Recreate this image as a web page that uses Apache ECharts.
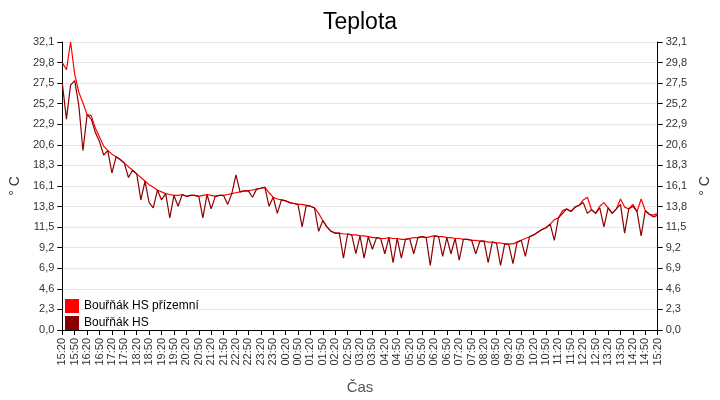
<!DOCTYPE html>
<html><head><meta charset="utf-8">
<script src="https://cdn.jsdelivr.net/npm/echarts@6/dist/echarts.min.js"></script>
<style>html,body{margin:0;padding:0;background:#fff}#c{width:720px;height:400px}</style>
</head><body><div id="c"></div>
<script>
// time categories every 10 minutes 15:20 .. 15:20
const times = [];
for (let i = 0; i <= 144; i++) {
  const m = (15*60+20 + i*10) % 1440;
  times.push(String(Math.floor(m/60)).padStart(2,'0') + ':' + String(m%60).padStart(2,'0'));
}
const groundValues = [29.8,29.0,32.1,28.5,26.5,25.3,24.0,23.9,22.5,21.5,
20.5,20.0,19.6,19.3,19.0,18.6,18.2,17.8,17.4,17.0,
16.6,16.2,15.9,15.6,15.4,15.2,15.1,15.0,15.0,15.1,
14.9,15.0,15.0,14.9,15.0,15.1,15.0,14.9,15.0,15.0,
15.1,15.2,15.3,15.4,15.5,15.5,15.6,15.7,15.8,15.9,
15.3,14.8,14.6,14.5,14.4,14.2,14.1,14.0,14.0,13.9,
13.8,13.6,13.0,12.2,11.5,11.0,10.8,10.8,10.7,10.7,
10.6,10.6,10.5,10.5,10.4,10.3,10.3,10.2,10.2,10.3,
10.2,10.2,10.1,10.1,10.2,10.3,10.3,10.4,10.3,10.4,
10.5,10.4,10.4,10.3,10.3,10.2,10.2,10.1,10.1,10.0,
10.0,9.9,9.9,9.8,9.8,9.7,9.7,9.6,9.6,9.6,
9.8,10.0,10.2,10.4,10.6,10.9,11.2,11.4,11.8,12.3,
12.5,13.3,13.5,13.2,13.7,13.9,14.5,14.8,13.4,13.0,
13.8,14.2,13.6,13.0,13.5,14.6,13.7,13.5,14.0,13.2,
14.6,13.3,12.9,12.8,13.0];
const hsValues = [27.5,23.5,27.3,27.8,25.0,20.0,24.0,23.5,22.0,21.0,
19.5,20.0,17.5,19.3,19.0,18.6,17.0,17.8,17.4,14.5,
16.6,14.2,13.6,15.6,14.5,15.2,12.5,15.0,13.8,15.1,
14.9,15.0,15.0,14.9,12.5,15.1,13.5,14.9,15.0,15.0,
14.0,15.2,17.3,15.4,15.5,15.5,14.8,15.7,15.8,15.9,
13.8,14.8,13.0,14.5,14.4,14.2,14.1,14.0,11.5,13.9,
13.8,13.6,11.0,12.2,11.5,11.0,10.8,10.8,8.0,10.7,
10.6,8.5,10.5,8.0,10.4,9.0,10.3,10.2,8.5,10.3,
7.5,10.2,8.0,10.1,10.2,8.5,10.3,10.4,10.3,7.2,
10.5,10.4,8.2,10.3,8.5,10.2,7.8,10.1,10.1,10.0,
8.5,9.9,9.9,7.5,9.8,9.7,7.2,9.6,9.5,7.4,
9.8,10.0,8.2,10.4,10.6,10.9,11.2,11.4,11.8,10.0,
12.5,13.0,13.5,13.2,13.7,13.9,14.2,13.0,13.4,13.0,
13.6,11.5,13.6,13.0,13.5,14.0,10.8,13.5,13.8,13.2,
10.5,13.3,12.9,12.6,12.8];
const yMax = 32.1;
const yStep = 32.1/14;
const fmt = v => v.toFixed(1).replace('.', ',');
const FF = 'Liberation Sans';
const chart = echarts.init(document.getElementById('c'));
const yAxisBase = {
  type:'value', min:0, max:yMax, interval:yStep,
  name:'° C', nameLocation:'middle', nameGap:38,
  nameTextStyle:{fontSize:14,color:'#333',fontFamily:FF},
  axisLine:{show:true,lineStyle:{color:'#000'}},
  axisTick:{show:true,lineStyle:{color:'#000'}},
  axisLabel:{formatter:fmt,fontSize:11,color:'#333',fontFamily:FF},
  splitLine:{show:true,lineStyle:{color:'#e6e6e6'}}
};
chart.setOption({
  animation:false,
  title:{text:'Teplota',left:'center',top:6,textStyle:{fontSize:23,fontWeight:'normal',color:'#000',fontFamily:FF}},
  grid:{left:57,right:53,top:42,bottom:68},
  legend:{orient:'vertical',left:60,top:294,itemWidth:14,itemHeight:14,itemGap:3,icon:'rect',
    textStyle:{fontSize:12,color:'#000',fontFamily:FF},
    data:['Bouřňák HS přízemní','Bouřňák HS']},
  xAxis:{type:'category',data:times,boundaryGap:false,
    name:'Čas',nameLocation:'middle',nameGap:50,
    nameTextStyle:{fontSize:15,color:'#555',fontFamily:FF},
    axisLine:{lineStyle:{color:'#000'}},
    axisTick:{interval:2,lineStyle:{color:'#000'}},
    axisLabel:{interval:2,rotate:90,fontSize:11,color:'#333',fontFamily:FF},
    splitLine:{show:false}},
  yAxis:[Object.assign({},yAxisBase,{position:'left'}),Object.assign({},yAxisBase,{position:'right',nameRotate:90})],
  series:[
    {name:'Bouřňák HS přízemní',type:'line',data:groundValues,showSymbol:false,
     lineStyle:{color:'#ff0000',width:1.2},itemStyle:{color:'#ff0000'}},
    {name:'Bouřňák HS',type:'line',data:hsValues,showSymbol:false,
     lineStyle:{color:'#8b0000',width:1.2},itemStyle:{color:'#8b0000'}}
  ]
});
</script></body></html>
